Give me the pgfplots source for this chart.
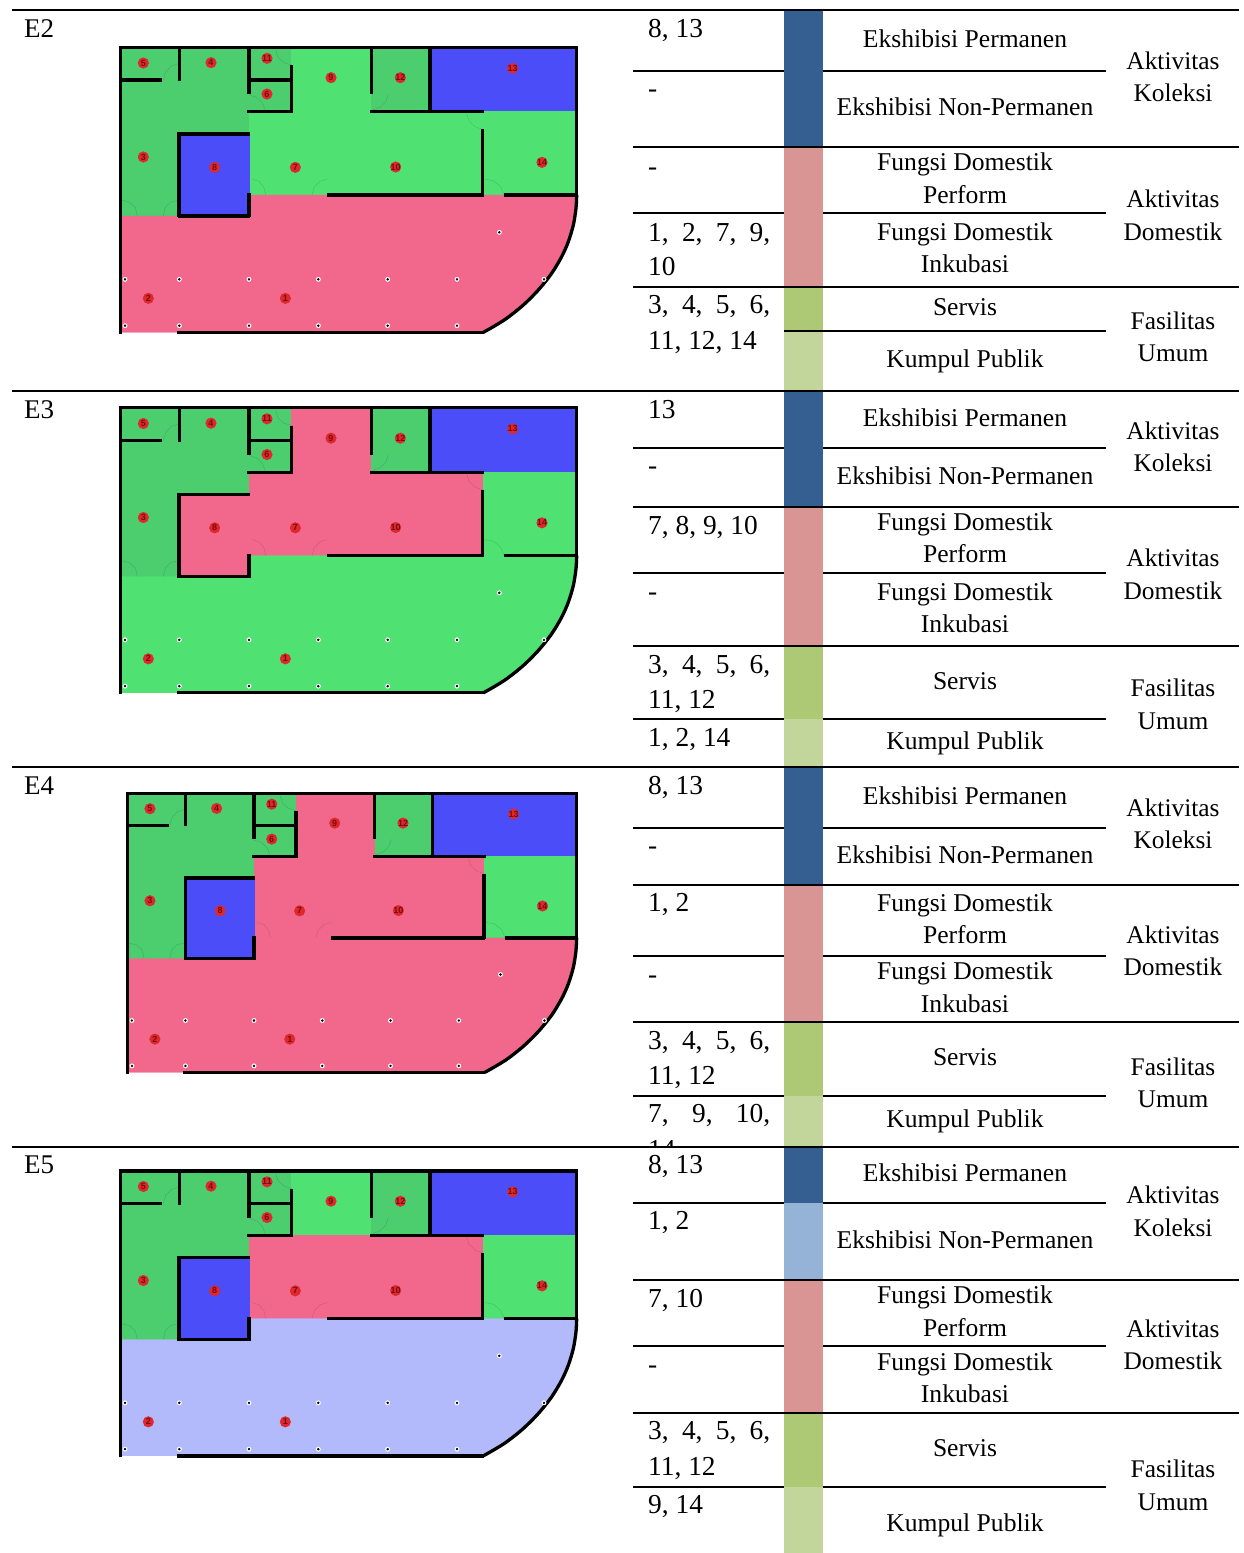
\documentclass[border=0pt]{standalone}
\usepackage{fontspec}
\setmainfont{Liberation Serif}
\newfontfamily\numfont{Liberation Sans}
\usepackage{pgfplots}
\pgfplotsset{compat=1.18}

\definecolor{dgreen}{HTML}{4CCD6E}
\definecolor{lgreen}{HTML}{50E173}
\definecolor{pinkr}{HTML}{F2688C}
\definecolor{blueb}{HTML}{4B4EF8}
\definecolor{peri}{HTML}{B2BAFC}
\definecolor{barblue}{HTML}{365F91}
\definecolor{barlblue}{HTML}{95B3D7}
\definecolor{barpink}{HTML}{D99594}
\definecolor{bargreen}{HTML}{AEC975}
\definecolor{barlgreen}{HTML}{C2D69B}
\definecolor{dotred}{HTML}{E0272C}
\definecolor{numred}{HTML}{6E1012}

% filled rectangle x0 y0 x1 y1
\newcommand{\rect}[5]{\addplot[fill=#1,draw=#1,line width=0.5pt] coordinates {(#2,#3) (#4,#3) (#4,#5) (#2,#5) (#2,#3)};}
\newcommand{\wall}[2][3.3pt]{\addplot[black,line width=#1,line cap=butt] coordinates {#2};}
\newcommand{\door}[1]{\addplot[black,opacity=0.16,line width=0.4pt] coordinates {#1};}
% text helpers: centre line, left column
\newcommand{\cc}[2]{\node[anchor=base,inner sep=0pt,font=\fontsize{25.6}{28}\selectfont] at (axis cs:965,#1) [yshift=-8pt] {#2};}
\newcommand{\rc}[2]{\node[anchor=base,inner sep=0pt,font=\fontsize{25.4}{28}\selectfont] at (axis cs:1173,#1) [yshift=-8pt] {#2};}
\newcommand{\lc}[2]{\node[anchor=base west,inner sep=0pt,font=\fontsize{27.4}{30}\selectfont] at (axis cs:648,#1) [yshift=-9pt] {#2};}
\newcommand{\js}[1]{\makebox[122pt][s]{#1}}

\pgfplotsset{
  plan/.style={hide axis,scale only axis,xmin=0,xmax=1500,ymin=0,ymax=960,y dir=reverse,anchor=north west},
}

% #1 x, #2 y, #3 width, #4 height, #5 rooms 1-2, #6 room 9, #7 rooms 7-10, #8 room 8
\newcommand{\plan}[8]{
\begin{axis}[plan,at={(#1pt,-#2pt)},width=#3pt,height=#4pt]
\rect{dgreen}{62}{52}{238}{150}
\rect{dgreen}{238}{52}{447}{310}
\rect{dgreen}{62}{150}{238}{558}
\rect{dgreen}{447}{52}{575}{150}
\rect{dgreen}{447}{150}{575}{245}
\rect{#6}{575}{52}{815}{245}
\rect{dgreen}{815}{52}{990}{245}
\rect{blueb}{990}{52}{1430}{245}
\rect{#7}{447}{245}{680}{495}
\rect{#7}{680}{245}{1150}{495}
\rect{lgreen}{1150}{245}{1430}{495}
\rect{#8}{238}{310}{447}{558}
\addplot[fill=#5,draw=#5,line width=0.2pt] coordinates {(62,558) (447,558) (447,495) (1430,495) (1428,535) (1420,585) (1405,635) (1385,680) (1355,730) (1315,780) (1270,825) (1220,865) (1180,890) (1150,907) (62,907) (62,558)};
% door swings
\door{(190,150) (197,126) (214,108) (238,100)}
\door{(527,60) (534,82) (552,98) (575,105)}
\door{(447,195) (470,202) (488,220) (495,240)}
\door{(865,193) (858,214) (840,232) (818,240)}
\door{(1100,250) (1107,272) (1125,290) (1148,298)}
\door{(455,447) (477,454) (492,472) (497,495)}
\door{(682,447) (660,454) (642,472) (636,495)}
\door{(1153,447) (1180,452) (1202,470) (1212,495)}
\door{(62,510) (88,516) (106,532) (112,558)}
\door{(238,510) (212,516) (196,532) (190,558)}
% walls
\wall{(62,911) (62,52) (1430,52) (1430,495)}
\addplot[black,line width=3.3pt,smooth,tension=0.5] coordinates {(1430,495) (1428,535) (1420,585) (1405,635) (1385,680) (1355,730) (1315,780) (1270,825) (1220,865) (1180,890) (1150,907)};
\wall{(1152,907) (232,907)}
\wall{(62,150) (187,150)}
\wall{(238,52) (238,153)}
\wall{(447,52) (447,193)}
\wall{(447,150) (575,150)}
\wall{(575,105) (575,249)}
\wall{(442,245) (575,245)}
\wall{(815,52) (815,193)}
\wall{(810,245) (1153,245)}
\wall{(990,52) (990,245)}
\wall{(1148,298) (1148,499)}
\wall{(682,495) (1152,495)}
\wall{(1212,495) (1430,495)}
\wall[3.8pt]{(238,307) (238,562)}
\wall[3.8pt]{(234,312) (451,312)}
\wall[3.8pt]{(234,558) (451,558)}
\wall[3.8pt]{(447,490) (447,562)}
% column dots
\addplot[only marks,mark=*,mark size=2.2pt,mark options={fill=white,draw=white}] coordinates {(75,748) (238,748) (447,748) (655,748) (863,748) (1071,748) (1332,748) (75,887) (238,887) (447,887) (655,887) (863,887) (1071,887) (1198,607)};
\addplot[only marks,mark=*,mark size=1pt,mark options={fill=black,draw=black}] coordinates {(75,748) (238,748) (447,748) (655,748) (863,748) (1071,748) (1332,748) (75,887) (238,887) (447,887) (655,887) (863,887) (1071,887) (1198,607)};
% room numbers
\addplot[only marks,mark=*,mark size=5.3pt,mark options={fill=dotred,draw=dotred},
  point meta=explicit symbolic,nodes near coords,
  every node near coord/.style={anchor=center,inner sep=0pt,text=numred,font=\numfont\bfseries\fontsize{9}{9}\selectfont}]
 coordinates {(130,99) [5] (333,98) [4] (501,85) [11] (693,143) [9] (901,143) [12] (1238,115) [13] (501,192) [6] (130,381) [3] (344,412) [8] (586,412) [7] (887,411) [10] (1326,397) [14] (145,805) [2] (556,805) [1]};
\end{axis}
}

\begin{document}
\begin{tikzpicture}
\begin{axis}[hide axis,scale only axis,width=1244pt,height=1553pt,xmin=0,xmax=1244,ymin=0,ymax=1553,y dir=reverse,
  anchor=north west,at={(0pt,0pt)}]
\rect{white}{0}{0}{1244}{1553}
% inner rules
\addplot[black,line width=1.3pt] coordinates {(633,71) (1106,71)};
\addplot[black,line width=1.3pt] coordinates {(633,213) (1106,213)};
\addplot[black,line width=1.3pt] coordinates {(633,448) (1106,448)};
\addplot[black,line width=1.3pt] coordinates {(633,573) (1106,573)};
\addplot[black,line width=1.3pt] coordinates {(633,719) (1106,719)};
\addplot[black,line width=1.3pt] coordinates {(633,828) (1106,828)};
\addplot[black,line width=1.3pt] coordinates {(633,956) (1106,956)};
\addplot[black,line width=1.3pt] coordinates {(633,1096) (1106,1096)};
\addplot[black,line width=1.3pt] coordinates {(633,1203) (1106,1203)};
\addplot[black,line width=1.3pt] coordinates {(633,1346) (1106,1346)};
\addplot[black,line width=1.3pt] coordinates {(633,1487) (1106,1487)};
% colour bars
\rect{barblue}{784}{10}{822}{147}
\rect{barpink}{784}{147}{822}{287}
\rect{bargreen}{784}{287}{822}{331}
\rect{barlgreen}{784}{331}{822}{391}
\rect{barblue}{784}{391}{822}{507}
\rect{barpink}{784}{507}{822}{646}
\rect{bargreen}{784}{646}{822}{719}
\rect{barlgreen}{784}{719}{822}{767}
\rect{barblue}{784}{767}{822}{885}
\rect{barpink}{784}{885}{822}{1022}
\rect{bargreen}{784}{1022}{822}{1096}
\rect{barlgreen}{784}{1096}{822}{1147}
\rect{barblue}{784}{1147}{822}{1203}
\rect{barlblue}{784}{1203}{822}{1280}
\rect{barpink}{784}{1280}{822}{1413}
\rect{bargreen}{784}{1413}{822}{1487}
\rect{barlgreen}{784}{1487}{822}{1553}
\addplot[black,line width=1.3pt] coordinates {(784,331) (1106,331)};
% clipped last line of the E4 cell
\lc{1149}{14}
\rect{white}{640}{1148}{690}{1172}
% group rules
\addplot[black,line width=1.3pt] coordinates {(633,147) (1239,147)};
\addplot[black,line width=1.3pt] coordinates {(633,287) (1239,287)};
\addplot[black,line width=1.3pt] coordinates {(633,507) (1239,507)};
\addplot[black,line width=1.3pt] coordinates {(633,646) (1239,646)};
\addplot[black,line width=1.3pt] coordinates {(633,885) (1239,885)};
\addplot[black,line width=1.3pt] coordinates {(633,1022) (1239,1022)};
\addplot[black,line width=1.3pt] coordinates {(633,1280) (1239,1280)};
\addplot[black,line width=1.3pt] coordinates {(633,1413) (1239,1413)};
% section rules
\addplot[black,line width=1.4pt] coordinates {(12,10) (1239,10)};
\addplot[black,line width=1.4pt] coordinates {(12,391) (1239,391)};
\addplot[black,line width=1.4pt] coordinates {(12,767) (1239,767)};
\addplot[black,line width=1.4pt] coordinates {(12,1147) (1239,1147)};
% section names
\node[anchor=base west,inner sep=0pt,font=\fontsize{27}{30}\selectfont] at (axis cs:24,28) [yshift=-9pt] {E2};
\node[anchor=base west,inner sep=0pt,font=\fontsize{27}{30}\selectfont] at (axis cs:24,409) [yshift=-9pt] {E3};
\node[anchor=base west,inner sep=0pt,font=\fontsize{27}{30}\selectfont] at (axis cs:24,785) [yshift=-9pt] {E4};
\node[anchor=base west,inner sep=0pt,font=\fontsize{27}{30}\selectfont] at (axis cs:24,1164) [yshift=-9pt] {E5};
% room lists
\lc{28}{8, 13}\lc{88}{-}\lc{166}{-}\lc{232}{\js{1,\hfil 2,\hfil 7,\hfil 9,}}\lc{266}{10}\lc{304}{\js{3,\hfil 4,\hfil 5,\hfil 6,}}\lc{340}{11, 12, 14}
\lc{409}{13}\lc{465}{-}\lc{525}{7, 8, 9, 10}\lc{591}{-}\lc{664}{\js{3,\hfil 4,\hfil 5,\hfil 6,}}\lc{699}{11, 12}\lc{737}{1, 2, 14}
\lc{785}{8, 13}\lc{845}{-}\lc{902}{1, 2}\lc{974}{-}\lc{1040}{\js{3,\hfil 4,\hfil 5,\hfil 6,}}\lc{1075}{11, 12}\lc{1113}{\js{7,\hfil 9,\hfil 10,}}
\lc{1164}{8, 13}\lc{1220}{1, 2}\lc{1298}{7, 10}\lc{1364}{-}\lc{1430}{\js{3,\hfil 4,\hfil 5,\hfil 6,}}\lc{1466}{11, 12}\lc{1504}{9, 14}
% functions
\cc{39}{Ekshibisi Permanen}\cc{107}{Ekshibisi Non-Permanen}\cc{162}{Fungsi Domestik}\cc{195}{Perform}\cc{232}{Fungsi Domestik}\cc{264}{Inkubasi}\cc{307}{Servis}\cc{359}{Kumpul Publik}
\cc{418}{Ekshibisi Permanen}\cc{476}{Ekshibisi Non-Permanen}\cc{522}{Fungsi Domestik}\cc{554}{Perform}\cc{592}{Fungsi Domestik}\cc{624}{Inkubasi}\cc{681}{Servis}\cc{741}{Kumpul Publik}
\cc{796}{Ekshibisi Permanen}\cc{855}{Ekshibisi Non-Permanen}\cc{903}{Fungsi Domestik}\cc{935}{Perform}\cc{971}{Fungsi Domestik}\cc{1004}{Inkubasi}\cc{1057}{Servis}\cc{1119}{Kumpul Publik}
\cc{1173}{Ekshibisi Permanen}\cc{1240}{Ekshibisi Non-Permanen}\cc{1295}{Fungsi Domestik}\cc{1328}{Perform}\cc{1362}{Fungsi Domestik}\cc{1394}{Inkubasi}\cc{1448}{Servis}\cc{1523}{Kumpul Publik}
% groups
\rc{61}{Aktivitas}\rc{93}{Koleksi}\rc{199}{Aktivitas}\rc{232}{Domestik}\rc{321}{Fasilitas}\rc{353}{Umum}
\rc{431}{Aktivitas}\rc{463}{Koleksi}\rc{558}{Aktivitas}\rc{591}{Domestik}\rc{688}{Fasilitas}\rc{721}{Umum}
\rc{808}{Aktivitas}\rc{840}{Koleksi}\rc{935}{Aktivitas}\rc{967}{Domestik}\rc{1067}{Fasilitas}\rc{1099}{Umum}
\rc{1195}{Aktivitas}\rc{1228}{Koleksi}\rc{1329}{Aktivitas}\rc{1361}{Domestik}\rc{1469}{Fasilitas}\rc{1502}{Umum}
\end{axis}
\plan{100}{30}{500}{320}{pinkr}{lgreen}{lgreen}{blueb}
\plan{100}{390.5}{500}{320}{lgreen}{pinkr}{pinkr}{pinkr}
\plan{107.3}{776.4}{492.3}{313.3}{pinkr}{pinkr}{pinkr}{blueb}
\plan{100}{1153.5}{500}{320}{peri}{lgreen}{pinkr}{blueb}
\end{tikzpicture}
\end{document}
